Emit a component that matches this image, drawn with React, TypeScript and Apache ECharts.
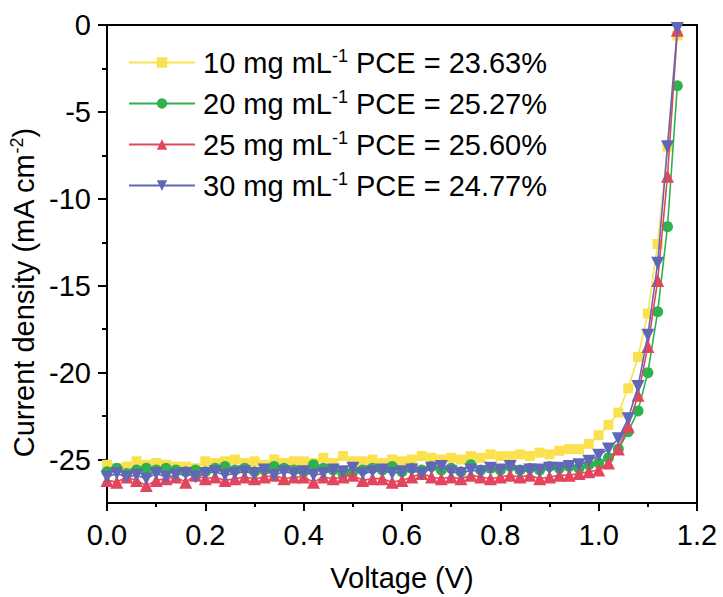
import React, { useEffect, useRef } from "react";
import * as echarts from "echarts";

const voltage = [
  0.0, 0.02, 0.04, 0.06, 0.08, 0.1, 0.12, 0.14, 0.16, 0.18,
  0.2, 0.22, 0.24, 0.26, 0.28, 0.3, 0.32, 0.34, 0.36, 0.38,
  0.4, 0.42, 0.44, 0.46, 0.48, 0.5, 0.52, 0.54, 0.56, 0.58,
  0.6, 0.62, 0.64, 0.66, 0.68, 0.7, 0.72, 0.74, 0.76, 0.78,
  0.8, 0.82, 0.84, 0.86, 0.88, 0.9, 0.92, 0.94, 0.96, 0.98,
  1.0, 1.02, 1.04, 1.06, 1.08, 1.1, 1.12, 1.14, 1.16,
];

const j10 = [
  -25.3, -25.5, -25.4, -25.1, -25.3, -25.2, -25.3, -25.4, -25.4, -25.5,
  -25.1, -25.2, -25.1, -25.0, -25.2, -25.1, -25.3, -25.0, -25.2, -25.1,
  -25.1, -25.2, -24.9, -25.2, -24.8, -25.1, -25.1, -25.0, -25.2, -25.0,
  -25.1, -25.0, -24.8, -24.9, -25.0, -24.9, -25.0, -24.8, -24.9, -24.7,
  -24.8, -24.8, -24.7, -24.8, -24.6, -24.7, -24.5, -24.4, -24.4, -24.1,
  -23.6, -23.0, -22.3, -20.9, -19.1, -16.6, -12.6, -7.0, -0.6,
];

const j20 = [
  -25.7, -25.5, -25.8, -25.6, -25.5, -25.6, -25.5, -25.6, -25.7, -25.6,
  -25.7, -25.5, -25.4, -25.6, -25.5, -25.7, -25.6, -25.4, -25.5, -25.6,
  -25.7, -25.3, -25.5, -25.6, -25.8, -25.7, -25.6, -25.5, -25.6, -25.4,
  -25.7, -25.5, -25.6, -25.4, -25.6, -25.5, -25.7, -25.3, -25.6, -25.5,
  -25.6, -25.4, -25.6, -25.5, -25.6, -25.4, -25.5, -25.4, -25.5, -25.3,
  -25.2, -24.9, -24.4, -23.4, -22.2, -20.0, -16.5, -11.6, -3.5,
];

const j25 = [
  -26.2, -26.3, -26.0, -26.2, -26.5, -26.2, -26.1, -26.0, -26.3, -25.9,
  -26.1, -26.0, -26.2, -26.1, -26.0, -26.1, -26.0, -25.9, -26.1, -26.0,
  -26.0, -26.3, -26.0, -26.1, -26.0, -25.9, -26.2, -26.1, -26.1, -26.3,
  -26.2, -26.0, -25.8, -26.0, -26.1, -26.0, -26.1, -25.9, -26.0, -26.1,
  -26.0, -25.9, -26.0, -25.9, -26.1, -26.0, -25.9, -25.9, -25.8, -25.7,
  -25.6, -25.2, -24.4, -23.1, -21.3, -18.5, -14.7, -8.7, -0.3,
];

const j30 = [
  -26.0, -25.8, -26.0, -25.9, -26.1, -25.8, -26.0, -25.9, -25.8, -26.0,
  -25.8, -25.7, -25.9, -25.8, -25.7, -25.8, -25.6, -25.9, -25.7, -25.8,
  -25.7, -25.9, -25.8, -25.6, -25.7, -25.5, -25.8, -25.7, -25.6, -25.8,
  -25.7, -25.6, -25.8, -25.5, -25.4, -25.7, -25.8, -25.6, -25.7, -25.5,
  -25.6, -25.4, -25.7, -25.6, -25.6, -25.5, -25.5, -25.4, -25.3, -25.1,
  -24.75, -24.4, -23.8, -22.65, -20.8, -17.85, -13.7, -7.0, -0.2,
];

const concentrations = ["10", "20", "25", "30"];
const pces = ["23.63", "25.27", "25.60", "24.77"];
const colors = ["#FCE14E", "#2EB24D", "#E1465C", "#6068B6"];
const symbols = ["rect", "circle", "triangle", "path://M0,0 L10,0 L5,9 Z"];
const symbolSizes = [10, 11, 13, 13];
const currents = [j10, j20, j25, j30];

const yMajorTicks = [0, -5, -10, -15, -20, -25];
const yMinorTicks = [-2.5, -7.5, -12.5, -17.5, -22.5];

const FONT = "'Liberation Sans', Arial, Helvetica, sans-serif";
const FS = 29;

export default function App() {
  const ref = useRef<HTMLDivElement>(null);

  useEffect(() => {
    document.body.style.margin = "0";
    if (!ref.current) return;
    const chart = echarts.init(ref.current, undefined, { renderer: "svg" });

    const names = concentrations.map((c, i) => `${c} mg mL-1 PCE = ${pces[i]}%`);

    const series = currents.map((vals, i) => ({
      name: names[i],
      type: "line",
      data: voltage.map((v, k) => [v, vals[k]]),
      symbol: symbols[i],
      symbolSize: symbolSizes[i],
      showAllSymbol: true,
      lineStyle: { color: colors[i], width: 1.6 },
      itemStyle: { color: colors[i], borderWidth: 0 },
      z: 2 + i,
      yAxisIndex: 0,
    }));

    const rich = {
      a: { fontSize: FS, fontFamily: FONT, color: "#000", lineHeight: 31 },
      sup: { fontSize: 18, fontFamily: FONT, color: "#000", lineHeight: 20, verticalAlign: "top" },
    };

    const option: any = {
      animation: false,
      backgroundColor: "#fff",
      textStyle: { fontFamily: FONT },
      grid: {
        left: 107,
        right: 26,
        top: 25,
        bottom: 94,
        show: true,
        borderColor: "#000",
        borderWidth: 2,
        backgroundColor: "transparent",
      },
      legend: {
        orient: "vertical",
        left: 128,
        top: 47,
        padding: 0,
        itemWidth: 66,
        itemHeight: 13,
        itemGap: 11,
        data: names,
        formatter: (name: string) => {
          const i = names.indexOf(name);
          return `{a|${concentrations[i]} mg mL}{sup|-1}{a| PCE = ${pces[i]}%}`;
        },
        textStyle: { rich, padding: [0, 0, 0, 3] },
      },
      xAxis: {
        type: "value",
        min: 0,
        max: 1.2,
        interval: 0.2,
        name: "Voltage (V)",
        nameLocation: "middle",
        nameGap: 60,
        nameTextStyle: { fontSize: FS, color: "#000", fontFamily: FONT },
        axisLine: { show: true, onZero: false, lineStyle: { color: "#000", width: 2 } },
        axisTick: { show: true, inside: false, length: 8, lineStyle: { color: "#000", width: 2 } },
        minorTick: { show: true, splitNumber: 2, length: 4, lineStyle: { color: "#000", width: 2 } },
        splitLine: { show: false },
        minorSplitLine: { show: false },
        axisLabel: {
          fontSize: FS,
          color: "#000",
          fontFamily: FONT,
          margin: 17,
          formatter: (v: number) => v.toFixed(1),
        },
      },
      yAxis: [
        {
          type: "value",
          min: -27.5,
          max: 0,
          position: "left",
          name: "{a|Current density (mA cm}{sup|-2}{a|)}",
          nameLocation: "middle",
          nameGap: 66,
          nameRotate: 90,
          nameTextStyle: { rich, padding: [0, 58, 0, 0] },
          axisLine: { show: true, onZero: false, lineStyle: { color: "#000", width: 2 } },
          axisTick: {
            show: true,
            inside: false,
            length: 9,
            customValues: yMajorTicks,
            lineStyle: { color: "#000", width: 2 },
          },
          splitLine: { show: false },
          axisLabel: {
            fontSize: FS,
            color: "#000",
            fontFamily: FONT,
            margin: 16,
            customValues: yMajorTicks,
            formatter: (v: number) => String(v),
          },
        },
        {
          type: "value",
          min: -27.5,
          max: 0,
          position: "left",
          offset: 0,
          axisLine: { show: false },
          axisTick: {
            show: true,
            inside: false,
            length: 5,
            customValues: yMinorTicks,
            lineStyle: { color: "#000", width: 2 },
          },
          axisLabel: { show: false },
          splitLine: { show: false },
        },
      ],
      series,
    };

    chart.setOption(option);
    return () => chart.dispose();
  }, []);

  return (
    <div
      ref={ref}
      style={{ position: "absolute", left: 0, top: 0, width: 723, height: 597 }}
    />
  );
}
